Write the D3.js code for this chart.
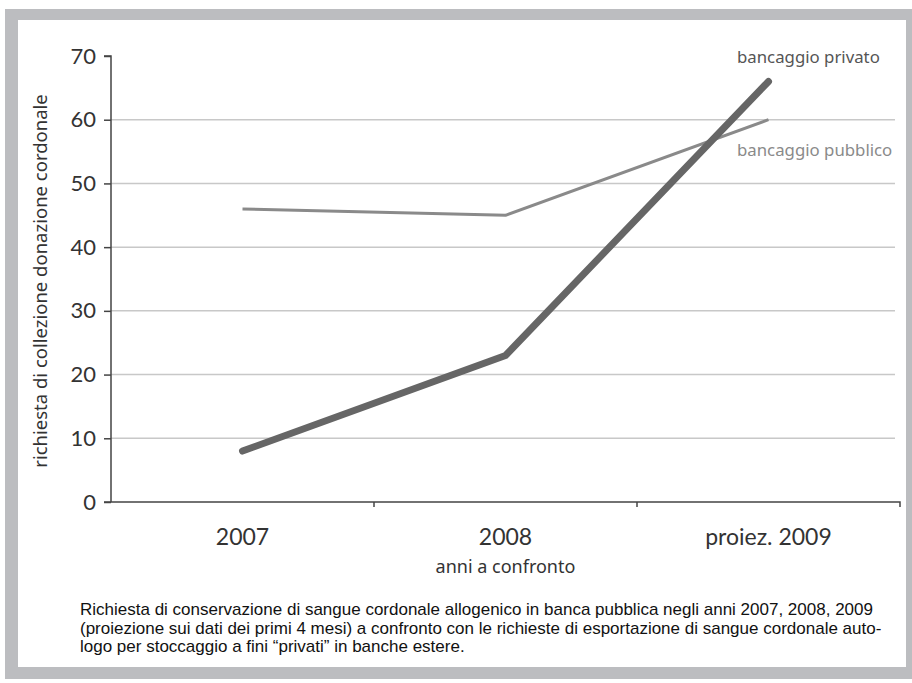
<!DOCTYPE html>
<html>
<head>
<meta charset="utf-8">
<script src="https://cdn.jsdelivr.net/npm/d3@7"></script>
<style>
  body { margin: 0; background: #fff; }
  svg { display: block; }
  text { font-family: "Noto Sans", sans-serif; }
</style>
</head>
<body>
<svg id="chart" width="912" height="683"></svg>
<script>
var years = ["2007", "2008", "proiez. 2009"];
var privato = [8, 23, 66];
var pubblico = [46, 45, 60];
var yTicks = [0, 10, 20, 30, 40, 50, 60, 70];
var caption = [
  "Richiesta di conservazione di sangue cordonale allogenico in banca pubblica negli anni 2007, 2008, 2009",
  "(proiezione sui dati dei primi 4 mesi) a confronto con le richieste di esportazione di sangue cordonale auto-",
  "logo per stoccaggio a fini \u201cprivati\u201d in banche estere."
];

var svg = d3.select("#chart");

// grey frame
svg.append("rect").attr("x", 5).attr("y", 9).attr("width", 907).attr("height", 670).attr("fill", "#bcbdc0");
svg.append("rect").attr("x", 18).attr("y", 20).attr("width", 888).attr("height", 647).attr("fill", "#fff");

var mLeft = 111, mRight = 900, mTop = 56, mBottom = 502;

var x = d3.scaleBand().domain(years).range([mLeft, mRight]);
var y = d3.scaleLinear().domain([0, 70]).range([mBottom, mTop]);

// grid
svg.append("g").selectAll("line")
  .data(yTicks.filter(function(d) { return d > 0 && d < 70; }))
  .enter().append("line")
  .attr("x1", mLeft).attr("x2", 895)
  .attr("y1", function(d) { return y(d); })
  .attr("y2", function(d) { return y(d); })
  .attr("stroke", "#c8c8c8").attr("stroke-width", 1.5);

var yAxis = d3.axisLeft(y).tickValues(yTicks).tickSize(7).tickPadding(8);
var gy = svg.append("g").attr("transform", "translate(" + mLeft + ",0)").call(yAxis);
gy.select(".domain").attr("stroke", "#444").attr("stroke-width", 1.5).attr("d", "M0," + mBottom + "V" + mTop + "H-7");
gy.selectAll(".tick line").attr("stroke", "#444").attr("stroke-width", 1.5);
gy.selectAll(".tick text").attr("fill", "#333").style("font-size", "22px").style("font-family", "Lato, sans-serif");

var xAxis = d3.axisBottom(x).tickSize(0).tickPadding(27);
var gx = svg.append("g").attr("transform", "translate(0," + mBottom + ")").call(xAxis);
gx.select(".domain").attr("stroke", "#444").attr("stroke-width", 1.5).attr("d", "M" + (mLeft - 7) + ",0H" + mRight + "V5");
gx.selectAll(".tick text").attr("fill", "#333").style("font-size", "23px").style("font-family", "Lato, sans-serif");
// separators between categories
gx.selectAll(".sep").data(years.slice(1)).enter().append("line")
  .attr("x1", function(d) { return x(d); }).attr("x2", function(d) { return x(d); })
  .attr("y1", 0).attr("y2", 5).attr("stroke", "#444").attr("stroke-width", 1.5);

svg.append("text").attr("x", (mLeft + mRight) / 2).attr("y", 573).attr("text-anchor", "middle")
  .attr("fill", "#333").style("font-size", "18px").text("anni a confronto");

svg.append("text").attr("transform", "translate(47,281) rotate(-90)").attr("text-anchor", "middle")
  .attr("fill", "#333").style("font-size", "18.5px").text("richiesta di collezione donazione cordonale");

var line = d3.line()
  .x(function(d, i) { return x(years[i]) + x.bandwidth() / 2; })
  .y(function(d) { return y(d); });

svg.append("path").datum(pubblico).attr("d", line).attr("fill", "none")
  .attr("stroke", "#8a8a8a").attr("stroke-width", 3).attr("stroke-linejoin", "round");
svg.append("path").datum(privato).attr("d", line).attr("fill", "none")
  .attr("stroke", "#666").attr("stroke-width", 7).attr("stroke-linecap", "round").attr("stroke-linejoin", "round");

svg.append("text").attr("x", 737).attr("y", 63).attr("fill", "#555").style("font-size", "16.8px").text("bancaggio privato");
svg.append("text").attr("x", 737).attr("y", 156).attr("fill", "#8a8a8a").style("font-size", "16.8px").text("bancaggio pubblico");

svg.append("g").selectAll("text").data(caption).enter().append("text")
  .attr("x", 80).attr("y", function(d, i) { return 615 + i * 18.5; })
  .attr("fill", "#111").style("font-size", "17px").style("font-family", "'Liberation Sans Narrow', 'Liberation Sans', sans-serif")
  .text(function(d) { return d; });
</script>
</body>
</html>
